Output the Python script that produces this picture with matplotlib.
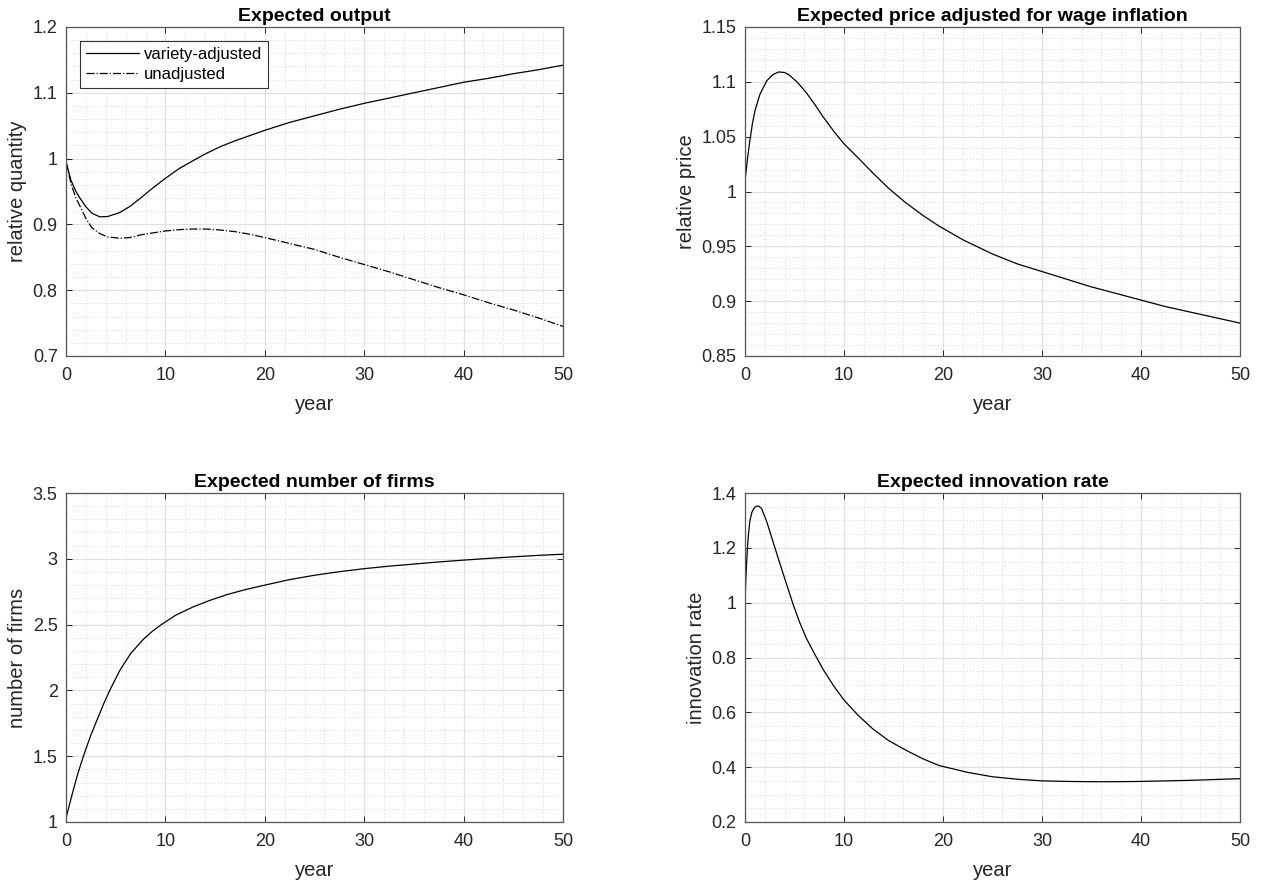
import numpy as np
import matplotlib.pyplot as plt
from matplotlib.ticker import MultipleLocator

plt.rcParams['font.family'] = ['Liberation Sans', 'DejaVu Sans']

# expected output (relative quantity)
yr_out = [0, 0.5, 1.0, 1.4, 2.0, 2.6, 3.4, 4.2, 5.4, 6.4, 7.5, 8.7, 10, 11.4, 12.8, 14, 15.5,
          17, 18.5, 20, 22.5, 25, 27.5, 30, 32.5, 35, 37.5, 40, 42.5, 45, 47.5, 50]
q_adj = [0.995, 0.967, 0.950, 0.940, 0.927, 0.917, 0.9115, 0.912, 0.918, 0.927, 0.940, 0.955,
         0.970, 0.985, 0.997, 1.007, 1.018, 1.027, 1.035, 1.043, 1.055, 1.065, 1.075, 1.084,
         1.092, 1.100, 1.108, 1.116, 1.122, 1.129, 1.135, 1.142]
q_unadj = [0.995, 0.962, 0.940, 0.928, 0.909, 0.895, 0.886, 0.881, 0.879, 0.880, 0.884, 0.887,
           0.890, 0.892, 0.893, 0.893, 0.8915, 0.889, 0.885, 0.880, 0.871, 0.862, 0.850, 0.839,
           0.828, 0.816, 0.804, 0.793, 0.781, 0.770, 0.758, 0.745]

# expected price adjusted for wage inflation
yr_p = [0, 0.25, 0.5, 0.75, 1.0, 1.5, 2.2, 2.8, 3.4, 4.0, 4.5, 5.3, 6.2, 7.0, 7.9, 9.0, 10,
        11.5, 12.9, 14.5, 16.2, 18, 19.5, 22, 25, 27.5, 30, 32.5, 35, 37.5, 40, 42.5, 45, 47.5, 50]
price = [1.0096, 1.030, 1.047, 1.062, 1.0735, 1.0885, 1.101, 1.1065, 1.109, 1.1085, 1.106,
         1.0995, 1.0900, 1.080, 1.068, 1.0545, 1.0435, 1.030, 1.017, 1.003, 0.990, 0.978, 0.969,
         0.956, 0.943, 0.934, 0.927, 0.920, 0.913, 0.907, 0.901, 0.895, 0.890, 0.885, 0.880]

# expected number of firms
yr_n = [0, 0.74, 1.2, 1.75, 2.5, 3.2, 3.8, 4.4, 5.4, 6.5, 7.8, 8.7, 9.6, 11, 12.8, 14.5,
        16.2, 18, 20, 22.5, 25, 27.5, 30, 32.5, 35, 37.5, 40, 42.5, 45, 47.5, 50]
firms = [1.03, 1.245, 1.37, 1.5, 1.66, 1.79, 1.9, 2.0, 2.15, 2.28, 2.39, 2.45, 2.5, 2.57,
         2.635, 2.685, 2.728, 2.765, 2.80, 2.842, 2.875, 2.902, 2.925, 2.944, 2.96, 2.976,
         2.99, 3.003, 3.015, 3.026, 3.035]

# expected innovation rate
yr_i = [0, 0.1, 0.23, 0.35, 0.5, 0.7, 0.95, 1.17, 1.4, 1.68, 2.2, 2.85, 3.4, 3.86, 4.4, 4.87,
        5.5, 6.2, 7.0, 7.9, 9.0, 10, 11.4, 12.9, 14.5, 16.3, 18, 19.6, 22.5, 25, 27.5, 30,
        32.5, 35, 37.5, 40, 42.5, 45, 47.5, 50]
innov = [1.0, 1.10, 1.19, 1.25, 1.30, 1.33, 1.347, 1.352, 1.352, 1.343, 1.295, 1.22, 1.157,
         1.105, 1.045, 0.993, 0.93, 0.870, 0.815, 0.756, 0.694, 0.645, 0.59, 0.540, 0.497,
         0.461, 0.430, 0.406, 0.381, 0.365, 0.356, 0.350, 0.348, 0.347, 0.347, 0.348, 0.350,
         0.352, 0.355, 0.358]

fig = plt.figure(figsize=(12.63, 8.84), dpi=100)
W, H = 1263, 884


def make_ax(l, r, t, b):
    return fig.add_axes([l / W, 1 - b / H, (r - l) / W, (b - t) / H])


def style(ax, ylim, ymaj, ymin, title, ylabel):
    ax.set_xlim(0, 50)
    ax.set_ylim(*ylim)
    ax.xaxis.set_major_locator(MultipleLocator(10))
    ax.xaxis.set_minor_locator(MultipleLocator(2))
    ax.yaxis.set_major_locator(MultipleLocator(ymaj))
    ax.yaxis.set_minor_locator(MultipleLocator(ymin))
    ax.grid(which='major', color='#e0e0e0', lw=0.9, ls='-')
    ax.grid(which='minor', color='#cccccc', lw=0.6, ls=(0, (1, 2.5)))
    ax.set_axisbelow(True)
    ax.tick_params(which='major', direction='in', length=4, width=0.7, top=True, right=True,
                   labelsize=13, colors='#262626')
    ax.tick_params(axis='x', pad=8)
    ax.tick_params(axis='y', pad=6)
    ax.tick_params(which='minor', length=0)
    for s in ax.spines.values():
        s.set_color('#555555')
        s.set_linewidth(0.9)
    ax.set_title(title, fontsize=14, fontweight='bold', pad=4)
    ax.set_xlabel('year', fontsize=14.5, color='#262626', labelpad=8)
    ax.set_ylabel(ylabel, fontsize=14.5, color='#262626', labelpad=4)
    ax.yaxis.set_major_formatter(plt.FuncFormatter(lambda v, p: ('%g' % round(v, 4))))


ax1 = make_ax(66, 563, 27, 356)
ax1.plot(yr_out, q_adj, color='k', lw=0.9, label='variety-adjusted')
ax1.plot(yr_out, q_unadj, color='k', lw=0.9, ls='-.', label='unadjusted')
style(ax1, (0.7, 1.2), 0.1, 0.02, 'Expected output', 'relative quantity')
leg = ax1.legend(loc='upper left', fontsize=12, fancybox=False, edgecolor='#333333',
                 framealpha=1, borderaxespad=0.85, handlelength=3.2, handletextpad=0.3,
                 borderpad=0.35, labelspacing=0.3)
leg.get_frame().set_linewidth(0.8)

ax2 = make_ax(745, 1240, 27, 356)
ax2.plot(yr_p, price, color='k', lw=0.9)
style(ax2, (0.85, 1.15), 0.05, 0.01, 'Expected price adjusted for wage inflation',
      'relative price')

ax3 = make_ax(66, 563, 493, 822)
ax3.plot(yr_n, firms, color='k', lw=0.9)
style(ax3, (1, 3.5), 0.5, 0.1, 'Expected number of firms', 'number of firms')

ax4 = make_ax(745, 1240, 493, 822)
ax4.plot(yr_i, innov, color='k', lw=0.9)
style(ax4, (0.2, 1.4), 0.2, 0.05, 'Expected innovation rate', 'innovation rate')

fig.savefig('out.png', dpi=100)
